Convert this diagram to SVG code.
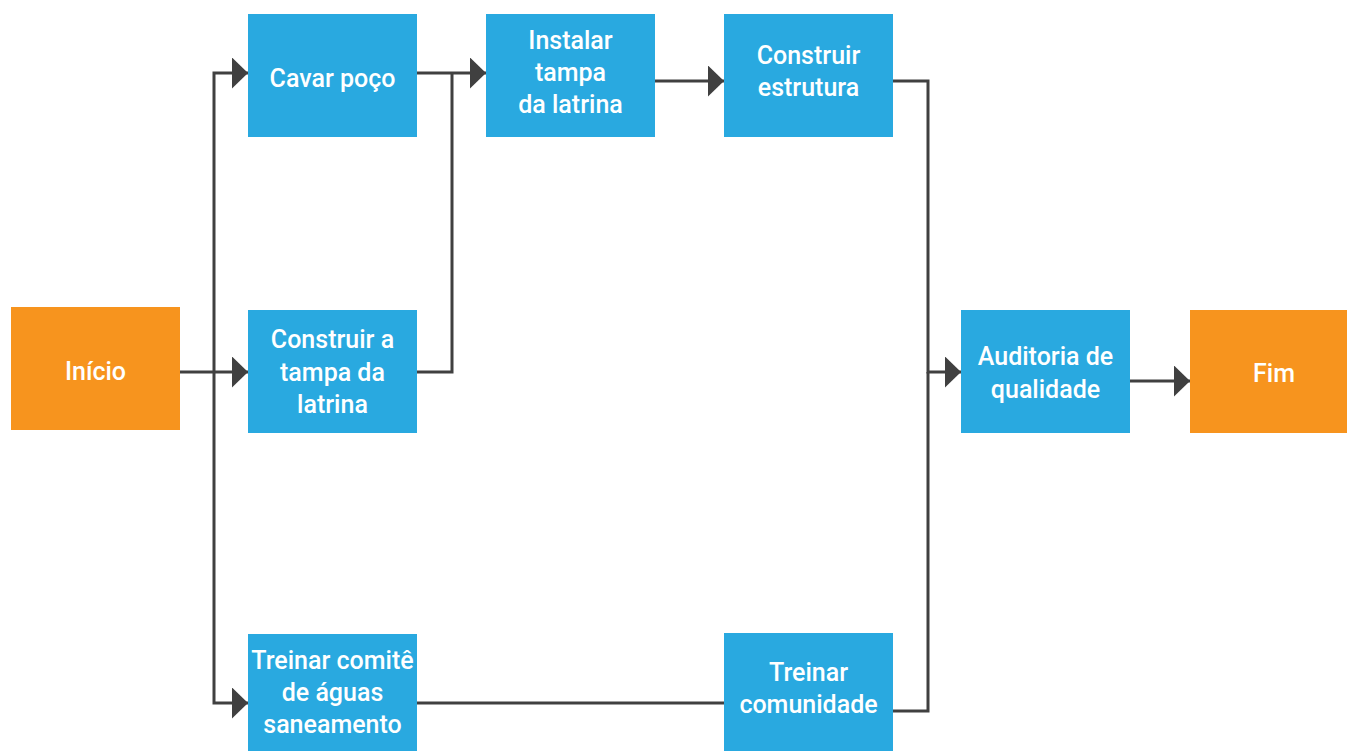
<svg xmlns="http://www.w3.org/2000/svg" width="1347" height="751" viewBox="0 0 1347 751">
<style>
.task{fill:#29A9E0}
.term{fill:#F7941E}
text{font-family:Roboto,"Liberation Sans",sans-serif;font-weight:500;font-size:25px;fill:#fff;text-anchor:middle}
.c{fill:none;stroke:#404040;stroke-width:3}
</style>
<defs>
<marker id="ah" markerUnits="userSpaceOnUse" markerWidth="17" markerHeight="32" refX="16" refY="15.5" orient="auto">
<path d="M0,0 L16,15.5 L0,31 Z" fill="#404040"/>
</marker>
</defs>
<rect width="1347" height="751" fill="#fff"/>
<g id="connectors">
<path class="c" d="M180,372 H248" marker-end="url(#ah)"/>
<path class="c" d="M214,372 V73 H248" marker-end="url(#ah)"/>
<path class="c" d="M214,372 V703 H248" marker-end="url(#ah)"/>
<path class="c" d="M417,73 H486" marker-end="url(#ah)"/>
<path class="c" d="M417,372 H452 V73"/>
<path class="c" d="M655,81 H724" marker-end="url(#ah)"/>
<path class="c" d="M893,81 H928 V372 H961" marker-end="url(#ah)"/>
<path class="c" d="M893,711 H928 V372"/>
<path class="c" d="M417,703 H724"/>
<path class="c" d="M1130,381 H1190" marker-end="url(#ah)"/>
</g>
<g id="inicio"><rect class="term" x="11" y="307" width="169" height="123"/><text x="95.5" y="380">Início</text></g>
<g id="cavar"><rect class="task" x="248" y="14" width="169" height="123"/><text x="332.5" y="87">Cavar poço</text></g>
<g id="construir-tampa"><rect class="task" x="248" y="310" width="169" height="123"/><text x="332.5" y="348">Construir a</text><text x="332.5" y="381">tampa da</text><text x="332.5" y="413">latrina</text></g>
<g id="treinar-comite"><rect class="task" x="248" y="634" width="169" height="117"/><text x="332.5" y="669">Treinar comitê</text><text x="332.5" y="701">de águas</text><text x="332.5" y="733">saneamento</text></g>
<g id="instalar"><rect class="task" x="486" y="14" width="169" height="123"/><text x="570.5" y="49">Instalar</text><text x="570.5" y="81">tampa</text><text x="570.5" y="113">da latrina</text></g>
<g id="estrutura"><rect class="task" x="724" y="14" width="169" height="123"/><text x="808.5" y="64">Construir</text><text x="808.5" y="96">estrutura</text></g>
<g id="comunidade"><rect class="task" x="724" y="633" width="169" height="118"/><text x="808.5" y="681">Treinar</text><text x="808.5" y="713">comunidade</text></g>
<g id="auditoria"><rect class="task" x="961" y="310" width="169" height="123"/><text x="1045.5" y="365">Auditoria de</text><text x="1045.5" y="398">qualidade</text></g>
<g id="fim"><rect class="term" x="1190" y="310" width="157" height="123"/><text x="1274" y="382">Fim</text></g>
</svg>
